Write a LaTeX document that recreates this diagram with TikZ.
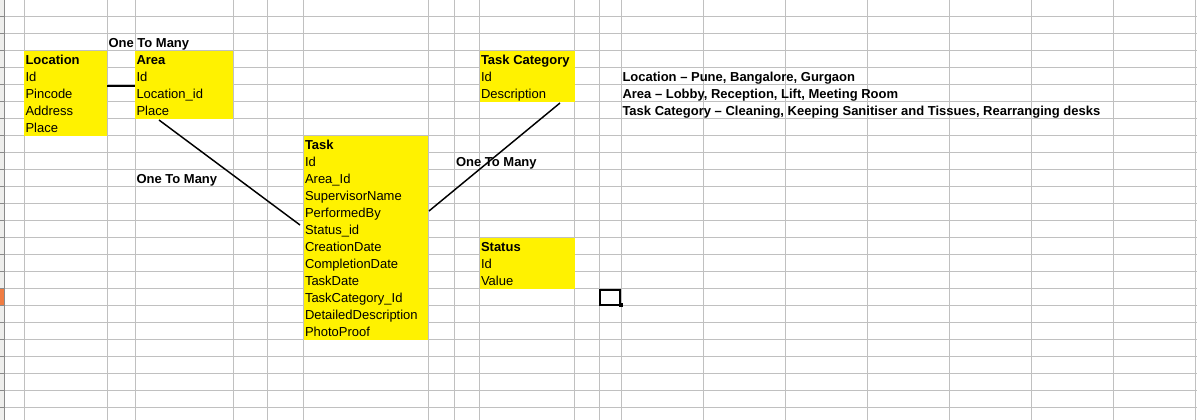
\documentclass[tikz,border=0pt]{standalone}
\usepackage{fontspec}
\setmainfont{Liberation Sans}
\usetikzlibrary{fit}
\definecolor{cellyellow}{HTML}{FFF200}
\definecolor{gridgray}{HTML}{C0C0C0}
\definecolor{headgray}{HTML}{EEEEEC}
\definecolor{headdark}{HTML}{8A8A8A}
\definecolor{selorange}{HTML}{F07C42}
\tikzset{
  ybox/.style={fill=cellyellow, draw=none, inner sep=0pt, outer sep=0pt},
  fld/.style={anchor=base west, inner sep=0pt, outer sep=0pt, font=\fontsize{9.75}{12}\selectfont},
  hdr/.style={fld, font=\fontsize{9.75}{12}\selectfont\bfseries},
  link/.style={draw=black, line width=1.1pt},
  gridline/.style={draw=gridgray, line width=0.75pt}
}
\begin{document}
\begin{tikzpicture}[x=0.75pt,y=-0.75pt]
\useasboundingbox (0,0) rectangle (1197,420);
\fill[white] (0,0) rectangle (1197,420);
% spreadsheet grid
\foreach \x in {24,107,135,233,267,303.5,428,454.5,479.5,574.5,599.5,621,703,785,867,949,1031,1113,1195}
  \draw[gridline] (\x,0) -- (\x,420);
\foreach \k in {0,...,24}
  \draw[gridline] (4,17*\k) -- (1197,17*\k);
% row header strip
\fill[headgray] (0,0) rectangle (4,420);
\fill[selorange] (0,289) rectangle (4,306);
\foreach \k in {0,...,24}
  \draw[headdark, line width=0.75pt] (0,17*\k) -- (4,17*\k);
\draw[headdark, line width=0.75pt] (4,0) -- (4,420);
% yellow tables
\node[ybox, fit={(24,51) (107,136)}] (loc) {};
\node[ybox, fit={(135,51) (233,119)}] (area) {};
\node[ybox, fit={(303.5,136) (428,340)}] (task) {};
\node[ybox, fit={(479.5,51) (574.5,102)}] (tcat) {};
\node[ybox, fit={(479.5,238) (574.5,289)}] (status) {};
% Location
\node[hdr] (loc-h) at (25.5,65) {Location};
\node[fld] (loc-1) at (25.5,82) {Id};
\node[fld] (loc-2) at (25.5,99) {Pincode};
\node[fld] (loc-3) at (25.5,116) {Address};
\node[fld] (loc-4) at (25.5,133) {Place};
% Area
\node[hdr] (area-h) at (136.5,65) {Area};
\node[fld] (area-1) at (136.5,82) {Id};
\node[fld] (area-2) at (136.5,99) {Location\_id};
\node[fld] (area-3) at (136.5,116) {Place};
% Task
\node[hdr] (task-h) at (305,150) {Task};
\node[fld] (task-1) at (305,167) {Id};
\node[fld] (task-2) at (305,184) {Area\_Id};
\node[fld] (task-3) at (305,201) {SupervisorName};
\node[fld] (task-4) at (305,218) {PerformedBy};
\node[fld] (task-5) at (305,235) {Status\_id};
\node[fld] (task-6) at (305,252) {CreationDate};
\node[fld] (task-7) at (305,269) {CompletionDate};
\node[fld] (task-8) at (305,286) {TaskDate};
\node[fld] (task-9) at (305,303) {TaskCategory\_Id};
\node[fld] (task-10) at (305,320) {DetailedDescription};
\node[fld] (task-11) at (305,337) {PhotoProof};
% Task Category
\node[hdr] (tcat-h) at (481,65) {Task Category};
\node[fld] (tcat-1) at (481,82) {Id};
\node[fld] (tcat-2) at (481,99) {Description};
% Status
\node[hdr] (status-h) at (481,252) {Status};
\node[fld] (status-1) at (481,269) {Id};
\node[fld] (status-2) at (481,286) {Value};
% relation labels
\node[hdr] (rel1) at (108.5,48) {One To Many};
\node[hdr] (rel2) at (136.5,184) {One To Many};
\node[hdr] (rel3) at (456,167) {One To Many};
% notes
\node[hdr] (note1) at (622.5,82) {Location – Pune, Bangalore, Gurgaon};
\node[hdr] (note2) at (622.5,99) {Area – Lobby, Reception, Lift, Meeting Room};
\node[hdr] (note3) at (622.5,116) {Task Category – Cleaning, Keeping Sanitiser and Tissues, Rearranging desks};
% connectors
\coordinate (la1) at (107,86);
\coordinate (la2) at (135,86);
\coordinate (at1) at (159,120);
\coordinate (at2) at (300,225);
\coordinate (tc1) at (429,211);
\coordinate (tc2) at (560,103);
\draw[link] (la1) -- (la2);
\draw[link] (at1) -- (at2);
\draw[link] (tc1) -- (tc2);
% selected cell
\node[draw=black, line width=1.5pt, fit={(600,290) (620,305.5)}, inner sep=0pt] (sel) {};
\fill[black] (618.5,303.5) rectangle (622.5,307.5);
\end{tikzpicture}
\end{document}
